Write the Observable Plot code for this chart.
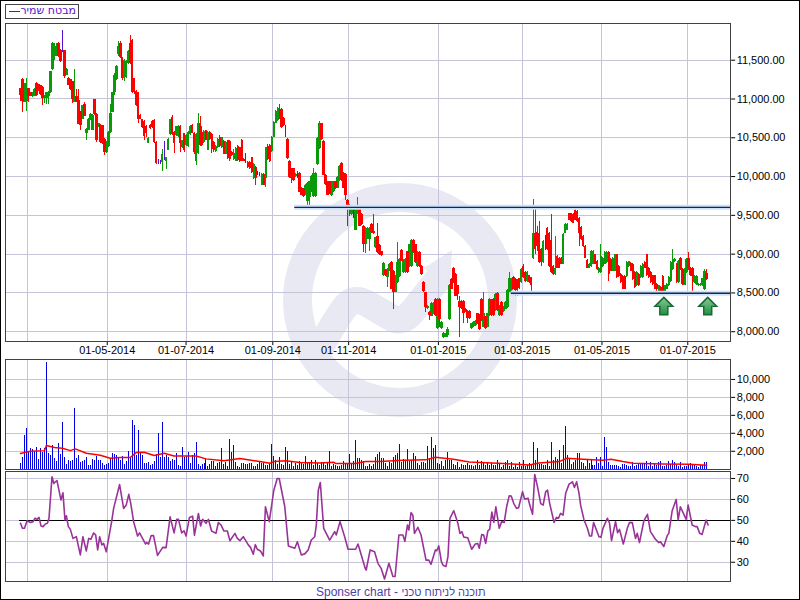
<!DOCTYPE html>
<html><head><meta charset="utf-8">
<script src="https://cdn.jsdelivr.net/npm/d3@7"></script>
<script src="https://cdn.jsdelivr.net/npm/@observablehq/plot@0.6"></script>
<style>
html,body{margin:0;padding:0;background:#fff}
#page{position:relative;width:800px;height:600px;box-sizing:border-box;border:1px solid #000;overflow:hidden;font-family:"Liberation Sans",Arial,sans-serif}
#page>svg,#page>div.p{position:absolute;left:-1px}
#legend{position:absolute;left:4px;top:3px;width:72px;height:13px;border:1px solid #444;background:#fff;color:#5a10d0;font:11px "DejaVu Sans",sans-serif}
#legend i{position:absolute;left:3px;top:6px;width:11px;height:1px;background:#5a10d0}
#legend span{position:absolute;right:2px;top:-1px;direction:rtl;white-space:nowrap;line-height:14px}
#caption{position:absolute;left:315px;top:584px;font-size:12px;color:#5040a8;white-space:nowrap}
#caption b{font-weight:normal;font-size:11px}
</style></head><body>
<div id="page">
<svg id="wm" width="800" height="600" style="top:-1px">
<defs><linearGradient id="arrowGrad" x1="0" y1="0" x2="0" y2="1"><stop offset="0" stop-color="#8cc79a"/><stop offset="1" stop-color="#1f8f42"/></linearGradient></defs>
<circle cx="400" cy="300" r="102.5" fill="none" stroke="#e9e9f4" stroke-width="29"/>
<path d="M318 352 Q336 318 346 306 Q354 296 368 304 L392 318 Q402 324 412 312 L442 274" fill="none" stroke="#e9e9f4" stroke-width="27"/>
<path d="M452 250 L424 268 L450 292 Z" fill="#e9e9f4"/>
</svg>
<div id="legend"><i></i><span>מבטח שמיר</span></div>
<div id="caption">Sponser chart - <b>תוכנה לניתוח טכני</b></div>
</div>
<script>
const opens=[
11130,11250,10950,10970,11130,11090,11030,11030,11200,11190,
11170,11150,11000,11000,11030,11080,11380,11550,11610,11710,
11630,11630,11620,11300,11270,11250,11230,10960,11030,10980,
10840,10740,10930,10560,10600,10730,10600,10990,10800,10630,
10660,10660,10480,10310,10390,10570,10820,11080,11250,11570,
11720,11530,11270,11280,11460,11720,11760,11260,11100,11080,
10790,10730,10710,10650,10420,10660,10710,10720,10440,10210,
10200,10180,10260,10200,10340,10540,10760,10570,10530,10520,
10650,10370,10550,10400,10390,10540,10660,10560,10190,10300,
10690,10570,10440,10590,10340,10570,10540,10440,10320,10370,
10500,10370,10450,10290,10460,10450,10310,10220,10200,10390,
10370,10470,10220,10210,10180,10180,10240,9970,10120,10050,
10040,9890,10030,9970,10390,10400,10320,10510,10690,10720,
10870,10870,10750,10570,10480,10200,10100,10100,10000,10040,
10040,9850,9830,9760,9680,9730,9810,9740,9740,10150,
10360,10680,10450,10020,9930,9930,9750,9810,9930,9850,
9950,10170,10040,10030,9690,9630,9510,9580,9310,9520,
9610,9510,9360,9120,9200,9190,9380,9290,9080,9230,
9110,9030,8720,8790,8700,8780,8890,8780,8510,8630,
8710,9050,8760,8760,9030,8840,8840,9180,9120,8840,
9020,8840,8640,8500,8300,8250,8200,8230,8420,8040,
8420,8040,7930,7930,7950,8160,8670,8820,8740,8590,
8390,8390,8390,8290,8260,8260,8040,8070,8080,8230,
8210,8420,8060,8190,8060,8210,8400,8420,8270,8490,
8210,8380,8260,8290,8310,8510,8530,8700,8670,8660,
8680,8630,8840,8760,8650,8720,8700,8950,9270,9280,
9270,9060,8890,9230,9330,9270,9180,8840,8740,8970,
8950,8950,8870,9270,9310,9520,9520,9510,9560,9550,
9460,9340,9230,9100,8920,8820,8840,8870,8990,8910,
8760,8760,8840,8870,8890,9020,8930,8780,8780,8990,
8840,8740,8710,8710,8710,8840,8880,8870,8760,8590,
8740,8700,8700,8890,8990,8820,8760,8720,8720,8610,
8510,8570,8710,8510,8550,8590,8650,8800,8900,8870,
8630,8950,8800,8600,8760,8950,8820,8820,8630,8610,
8590,8590,8590,8540,8750];
const closes=[
11040,10970,11200,11100,11030,11030,11090,11120,11040,11120,
11060,11010,11040,11080,11090,11350,11720,11650,11680,11550,
11480,11620,11290,11380,11180,11120,10990,11030,10960,10670,
10660,10910,10780,10610,10740,10800,10790,10800,10470,10680,
10440,10420,10310,10440,10570,10810,11080,11300,11420,11680,
11530,11270,11500,11480,11610,11460,11080,11080,10910,10740,
10740,10630,10520,10560,10490,10620,10630,10440,10170,10190,
10190,10290,10220,10240,10480,10730,10540,10420,10640,10650,
10420,10460,10330,10530,10570,10650,10560,10310,10540,10690,
10400,10400,10580,10470,10570,10480,10350,10340,10390,10480,
10390,10500,10290,10440,10230,10220,10270,10300,10360,10210,
10190,10200,10200,10180,10120,10100,10050,10160,9970,10030,
10010,10030,9890,10370,10220,10190,10510,10700,10840,10880,
10740,10630,10660,10550,10230,9990,9980,9950,10030,9980,
9800,9760,9740,9890,9910,9930,10000,10040,10040,10490,
10680,10480,10020,9900,9760,9780,9930,9930,9840,9990,
10130,9950,9850,9760,9580,9570,9610,9510,9610,9620,
9360,9380,9120,9330,9330,9330,9280,9260,9210,9020,
8990,8980,8880,8720,8800,8870,8550,8510,8720,8890,
8930,8910,8920,8930,8760,9120,9180,9020,8890,9020,
8840,8740,8520,8310,8330,8210,8370,8370,8210,8420,
8160,8120,7980,7970,8030,8600,8550,8630,8460,8480,
8310,8300,8240,8260,8170,8170,8100,8120,8130,8100,
8030,8140,8230,8040,8230,8420,8210,8210,8480,8270,
8330,8210,8310,8380,8530,8680,8670,8550,8530,8540,
8560,8800,8700,8650,8760,8630,8590,9260,9060,9100,
8890,8890,9160,9060,9060,8840,8760,8740,8820,8820,
8820,8870,9250,9380,9380,9440,9420,9400,9440,9420,
9270,9190,9100,8950,8820,8870,9040,9040,8870,8800,
8820,8970,8950,9020,9020,8740,8780,8950,8990,8700,
8710,8630,8550,8550,8890,8900,8780,8670,8570,8760,
8590,8840,8870,8820,8720,8700,8630,8610,8550,8550,
8590,8510,8520,8590,8610,8700,8890,8930,8930,8630,
8910,8800,8610,8800,8930,8800,8720,8710,8710,8710,
8610,8610,8680,8780,8670];
const highs=[
11130,11260,11200,11260,11130,11090,11090,11130,11210,11190,
11170,11160,11040,11080,11100,11350,11730,11710,11720,11730,
11640,11880,11630,11390,11280,11250,11230,11380,11120,11120,
10840,10920,10960,10620,10750,10810,10800,10990,10810,10690,
10670,10660,10490,10450,10580,10930,11090,11330,11430,11740,
11740,11540,11510,11490,11620,11820,11770,11270,11110,11090,
10800,10740,10720,10660,10500,10670,10720,10730,10450,10220,
10210,10350,10450,10250,10490,10740,10790,10580,10650,10660,
10660,10470,10560,10540,10580,10660,10670,10570,10550,10810,
10770,10650,10590,10600,10580,10580,10550,10450,10400,10490,
10530,10510,10460,10450,10470,10460,10320,10350,10370,10400,
10380,10480,10230,10300,10190,10190,10250,10170,10130,10060,
10050,10040,10040,10380,10410,10410,10520,10710,10850,10890,
10930,10880,10760,10660,10490,10210,10110,10110,10040,10070,
10050,9860,9840,9900,9920,9940,10010,10100,10050,10500,
10710,10690,10460,10030,9940,9940,9940,9940,9940,10000,
10140,10180,10050,10040,9700,9640,9620,9590,9620,9725,
9620,9520,9370,9340,9340,9340,9390,9515,9220,9400,
9120,9040,8890,8800,8810,8880,8900,8790,8730,9150,
8940,9060,8930,8940,9040,9130,9190,9190,9130,9030,
9030,8850,8650,8510,8340,8260,8380,8380,8430,8430,
8430,8130,7990,7980,8060,8610,8680,8830,8750,8600,
8450,8400,8400,8300,8270,8270,8110,8130,8140,8240,
8220,8430,8500,8200,8240,8430,8420,8430,8490,8500,
8340,8390,8320,8390,8540,8760,8680,8710,8680,8670,
8690,8810,8860,8770,8770,8720,8700,9705,9590,9350,
9420,9070,9170,9240,9340,9280,9505,8850,9230,8980,
8960,8960,9260,9390,9400,9530,9530,9520,9630,9560,
9470,9350,9240,9110,8930,8880,9050,9050,9000,8920,
8830,9120,8960,9030,9030,9030,8940,8960,9000,9000,
8850,8750,8720,8720,8900,8910,8890,8880,8770,8770,
8750,8850,8880,8900,9000,8830,8770,8730,8730,8620,
8600,8580,8720,8600,8620,8710,8900,9065,8940,8880,
8920,8960,8810,8810,8940,9015,8830,8830,8720,8720,
8620,8620,8690,8800,8800];
const lows=[
10970,10830,10950,10840,10950,11030,11020,11030,11030,11100,
11050,10920,10940,10930,10930,11070,11370,11500,11550,11540,
11470,11600,11270,11300,11170,11110,10940,10950,10950,10670,
10590,10740,10770,10470,10600,10720,10600,10790,10440,10630,
10430,10410,10270,10300,10380,10560,10820,11050,11240,11550,
11520,11240,11230,11260,11450,11450,11070,11060,10900,10690,
10730,10620,10460,10500,10420,10610,10620,10430,10160,10160,
10150,10060,10210,10090,10330,10530,10530,10300,10520,10510,
10310,10360,10310,10390,10380,10530,10550,10290,10140,10290,
10390,10390,10430,10460,10330,10470,10300,10310,10310,10360,
10380,10360,10280,10280,10220,10200,10260,10210,10190,10200,
10180,10190,10190,10170,10110,10090,10040,9960,9890,10020,
10000,9880,9880,9860,10210,10180,10310,10500,10680,10710,
10730,10620,10650,10510,10220,9980,9910,9940,9990,9970,
9790,9750,9730,9750,9620,9575,9800,9730,9730,10140,
10350,10470,10010,9890,9750,9770,9740,9800,9830,9840,
9940,9940,9840,9690,9355,9485,9500,9460,9300,9510,
9350,9370,9020,9010,9190,9030,9270,9250,9070,9010,
8980,8970,8710,8710,8570,8770,8540,8290,8500,8620,
8700,8900,8750,8750,8750,8830,8830,9010,8880,8830,
8830,8730,8510,8245,8290,8150,8190,8220,8200,8030,
8050,8030,7910,7920,7930,8150,8540,8620,8450,8400,
7930,8290,8100,8250,8100,8160,8030,8060,8070,8090,
8010,8130,8050,8030,8050,8200,8200,8200,8260,8260,
8200,8200,8250,8280,8300,8500,8520,8540,8460,8460,
8550,8620,8690,8640,8640,8620,8520,8935,9000,9040,
8880,8840,8880,9050,9050,8830,8750,8730,8730,8810,
8810,8860,8860,9260,9300,9430,9410,9390,9430,9410,
9100,9180,9090,8940,8810,8810,8830,8860,8860,8790,
8750,8750,8830,8860,8880,8650,8770,8770,8770,8690,
8700,8620,8540,8540,8700,8830,8770,8660,8560,8580,
8580,8690,8690,8810,8710,8690,8620,8600,8540,8480,
8500,8500,8510,8500,8540,8580,8640,8790,8890,8620,
8620,8790,8600,8590,8750,8790,8710,8520,8620,8600,
8580,8580,8580,8530,8660];
const dojiBars=[21,69,70,72,113,119,120,133,139,167,263];
const volumes=[
670,1260,3800,4480,1960,2330,2150,2000,2370,1040,
2260,1810,2330,11900,1700,1480,2590,1220,810,2810,
1590,5150,1260,480,930,810,930,6810,1150,1480,
700,810,1000,1260,370,370,1040,930,1370,930,
930,590,370,480,590,1070,1700,1590,1480,1150,
930,1370,480,810,1920,1260,5480,4920,1480,4260,
1700,1480,590,590,700,370,480,810,1590,4030,
1260,5250,1260,1480,1260,810,1040,930,1700,370,
260,2370,1260,1370,1810,590,1480,1700,3030,480,
260,480,590,1040,260,480,810,810,260,590,
700,2260,480,700,260,3260,1810,2590,700,260,
150,590,590,480,480,590,590,260,260,480,
780,670,670,370,370,670,2700,1370,930,480,
1260,480,370,2370,1920,480,810,260,590,370,
810,700,480,1370,700,590,930,370,930,590,
370,700,590,370,590,1920,260,480,370,260,
260,370,810,590,590,1590,590,810,3150,1150,
1150,930,810,260,260,480,260,480,1260,1590,
1810,1150,1150,590,260,700,590,1260,1480,1700,
2700,700,1040,930,2150,810,930,1700,1370,590,
370,700,700,590,2480,1150,3480,2260,2590,590,
480,810,260,930,1810,930,930,480,370,700,
150,480,370,370,590,370,370,260,370,930,
370,810,590,370,590,370,590,370,370,930,
590,150,370,700,930,260,700,150,370,150,
700,260,930,260,370,590,480,3030,930,2260,
480,480,370,370,930,260,2920,930,1260,1040,
2040,590,2590,4810,1480,1040,480,700,930,1700,
1700,700,590,260,1040,590,930,370,370,1260,
590,1260,260,3480,2370,700,370,370,370,370,
260,150,480,480,370,260,260,700,260,370,
590,480,590,590,810,260,700,260,480,370,
700,810,260,260,370,810,480,930,700,370,
260,700,150,260,260,480,590,370,370,260,
150,370,370,700,700];
const maBars=[0,2.5,5,12,13,17,21,25,27.5,33,40,45,50,55,58,62,67,72,77,88,93,102,110,120,125,127,133,140,150,157,158,168,173,180,192,203,208,217,225,242,255,260,270,274,282,292,296,302,307,322,335,344];
const maValues=[1740,1890,2000,2070,2630,2410,2330,2070,2260,1780,1560,1220,1300,1300,1850,1890,1520,1780,1480,1480,1150,930,1190,850,670,850,930,740,700,780,630,630,850,850,1000,1040,1330,1110,810,630,480,700,850,1220,1110,1000,1110,850,670,590,550,440];
const rsiBars=[0,1,2,3.3,5,6.3,7.3,8.3,9.3,10.3,11.3,12.5,13.5,14.3,15.8,16.7,17.5,18.3,20.3,21.3,22.3,23,24,25,26.3,28,30,31.3,33,34.2,35.3,36.7,37.7,38.7,39.7,40.8,41.7,43,45.8,46.7,49.7,51.7,53,54.3,55.3,56.7,58.7,59.7,62.7,63.3,64.2,65.5,66.7,68.7,71.3,73,75,77,78.3,79.2,80.8,82,83,84.7,86.3,87.2,89.2,90.3,91.3,93,94.2,95.8,98,99.2,100.5,102,103.7,105,107.5,108.7,110,111.7,114.2,115.3,116.7,117.7,118.7,120.3,121.7,122.8,124.7,125.8,127,128.7,129.7,132.5,134.3,137.5,138.8,140.8,142.5,144.2,145.8,147.5,148.3,149.3,150.3,152,155,157.5,158.3,160.2,162.5,164.2,168,169.2,172.8,173.3,175.3,177.5,179.2,180.8,182.5,184.7,186.7,187.8,189.7,
190,191.7,192.7,194,194.7,195.8,196.7,197.5,199.2,200.8,203.3,204.7,205.8,208,208.7,209.7,211,212,213.3,214.3,215.3,217.2,219.2,220.3,221.3,222.2,224.2,226.2,228,229.2,230,231.2,232.2,233.2,234.3,235.2,236.3,237.3,238.3,240,241.2,242.5,243.7,245,246,247.3,248.7,249.7,251.7,252.7,254.5,255.3,256.7,257.8,259.2,260.8,262,263.3,264.2,265.3,267.5,268.7,269.7,270.7,272,273.3,275,276.7,277.7,278.8,280,280.8,282.5,284.2,285.3,286.3,287.3,290,291,292,294.2,295.3,296.3,298.3,299.3,300.3,302.2,304.2,305.3,306.7,308.3,309.2,310.3,312.5,314.3,315.8,318.3,320,320.8,322.5,324.2,325,326.7,328.7,329.7,330.8,333.7,334.7,336.7,338.3,339.2,340.5,341.7,343.7,344.7];
const rsiValues=[48.6,46.2,46.2,49.8,49,49.4,51,50.5,51.4,47.3,47,48.3,48.6,51,70.8,67.6,68.4,69,59.7,63.2,50.2,52.2,47,45.7,41.4,42.2,33.5,42.2,35.4,41.4,41,44,43,35.9,42.2,38.3,39,35,50,55.7,67.1,55.7,57.3,62.4,58,49.4,42.5,44,38.7,39.4,38.7,42.7,42.7,33.3,37.1,37,51.7,44,50.5,50.5,44,45,42.5,51.4,52,42.9,53.3,47.3,50.5,48.6,50.5,44.9,43.8,49,47.8,44.9,44.9,40.3,43.8,41.4,40.3,42.2,38.3,37.1,33.8,38.4,36.2,35.4,33,56.5,49.4,56.5,64.4,70,70,56.5,37.8,36.7,39.8,33.5,34,35.9,40.6,42.2,47.8,64.4,68.1,46.2,40.6,44.6,43,49.4,42.2,36.2,36.2,38.7,27.1,26.3,35.9,35,29.5,27.1,22,29.5,23.2,23.2,43,
43,43,40,47.8,45.4,53.7,52.5,43.8,46.7,43,31,31,29,35.9,35.5,37.8,30.3,28.4,28,32.7,51,54.6,48.9,43.8,44.6,42,41.7,36.2,38.7,39,36.7,43.2,43,39,45,45.7,54,49,56.5,46.2,49.4,49,56.5,61.7,61.6,58,55.7,56,63.7,60.2,60.5,57.3,52.9,71.9,66,58,57.3,63.7,64.4,58,49,51.4,51,53.3,52.5,62.9,67.3,68.4,65.7,68.4,62.9,57.3,50.2,46.2,42.5,42.5,49,42.2,41.9,46.2,51,48.6,40.3,49.4,44.1,45.7,38.7,46.2,49,48.9,41.4,43.8,39.4,49.8,52.9,44.6,41,39.4,39.8,37.5,42.7,43.8,54.6,60,50.2,56.5,50.5,57.3,47.8,47,47,43.8,43.3,50.2,47.8];
const timeTicks=[3.5,43.5,83,126.5,164.5,209.5,251.5,291.5,334.5];
const timeLabels=["","01-05-2014","01-07-2014","01-09-2014","01-11-2014","01-01-2015","01-03-2015","01-05-2015","01-07-2015"];
const priceTicks=[8000,8500,9000,9500,10000,10500,11000,11500];
const volumeTicks=[2000,4000,6000,8000,10000];
const rsiTicks=[30,40,50,60,70];
const resistance=[{price:9603,from:137.5,to:356},{price:8495,from:246,to:356}];
const arrows=[{i:322.5,price:8333},{i:344.5,price:8333}];

const GRID="#c6c4d8", FRAME="#404040", GREEN="#089a08", RED="#ff0000", PURPLE="#5a10d0";
const xDomain=[-7.5,356];
const bars=opens.map((o,i)=>({i,o,c:closes[i],h:highs[i],l:lows[i],v:volumes[i]}));
const doji=new Set(dojiBars);
const kind=d=>doji.has(d.i)?"d":d.c>=d.o?"g":"r";
const series=k=>bars.filter(d=>kind(d)===k);
const base={width:800,marginLeft:5,marginRight:68,style:{background:"transparent",fontFamily:"'Liberation Sans',Arial,sans-serif",fontSize:"11px",color:"#000",overflow:"visible"}};
const arrowSymbol={draw(c){c.moveTo(0,-8.5);c.lineTo(9,0.5);c.lineTo(4,0.5);c.lineTo(4,9);c.lineTo(-4,9);c.lineTo(-4,0.5);c.lineTo(-9,0.5);c.closePath();}};
const crisp={shapeRendering:"crispEdges"};
const grid=()=>Plot.gridX({ticks:timeTicks,stroke:GRID,strokeOpacity:1,...crisp});
const price=Plot.plot({...base,height:360,marginTop:23,marginBottom:18,
 x:{domain:xDomain,label:null},y:{domain:[7872,11974],label:null},
 marks:[
  Plot.gridY(priceTicks,{stroke:GRID,strokeOpacity:1,...crisp}),grid(),
  ...[["g",GREEN],["r",RED],["d",PURPLE]].flatMap(([k,col])=>[
    Plot.ruleX(series(k),{x:"i",y1:"l",y2:"h",stroke:col,strokeWidth:1,...crisp}),
    Plot.ruleX(series(k),{x:"i",y1:"o",y2:"c",stroke:col,strokeWidth:k==="d"?1:2.6,...crisp})]),
  Plot.ruleY(resistance,{y:"price",x1:"from",x2:"to",stroke:"#cfe1f7",strokeWidth:5}),
  Plot.ruleY(resistance,{y:"price",x1:"from",x2:"to",stroke:"#0b2a5c",strokeWidth:1.4}),
  Plot.dot(arrows,{x:"i",y:"price",symbol:arrowSymbol,fill:"url(#arrowGrad)",stroke:"#176b30",r:1}),
  Plot.axisY(priceTicks,{anchor:"right",tickFormat:d3.format(",.2f"),tickSize:4,tickPadding:2,label:null}),
  Plot.axisX(timeTicks.slice(1),{anchor:"bottom",tickFormat:d=>timeLabels[timeTicks.indexOf(d)],tickSize:4,tickPadding:1,label:null}),
  Plot.frame({stroke:FRAME,...crisp})
 ]});
const vol=Plot.plot({...base,height:115,marginTop:4,marginBottom:1,
 x:{domain:xDomain,axis:null},y:{domain:[0,12222],label:null},
 marks:[
  Plot.gridY(volumeTicks,{stroke:GRID,strokeOpacity:1,...crisp}),grid(),
  Plot.ruleX(bars,{x:"i",y1:0,y2:"v",stroke:"#0000dd",strokeWidth:1,...crisp}),
  Plot.line(maBars.map((b,k)=>({b,v:maValues[k]})),{x:"b",y:"v",stroke:"#ff0000",strokeWidth:1.5}),
  Plot.axisY(volumeTicks,{anchor:"right",tickFormat:d3.format(","),tickSize:4,tickPadding:2,label:null}),
  Plot.frame({stroke:FRAME,...crisp})
 ]});
const rsi=Plot.plot({...base,height:115,marginTop:1,marginBottom:4,
 x:{domain:xDomain,axis:null},y:{domain:[20.95,73.33],label:null},
 marks:[
  Plot.gridY(rsiTicks,{stroke:GRID,strokeOpacity:1,...crisp}),grid(),
  Plot.ruleY([50],{x1:-0.5,x2:356,stroke:"#000",strokeWidth:1,...crisp}),
  Plot.line(rsiBars.map((b,k)=>({b,v:rsiValues[k]})),{x:"b",y:"v",stroke:"#993399",strokeWidth:1.6}),
  Plot.axisY(rsiTicks,{anchor:"right",tickSize:4,tickPadding:2,label:null}),
  Plot.frame({stroke:FRAME,...crisp})
 ]});
const page=document.getElementById("page");
[[price,0],[vol,355],[rsi,470]].forEach(([el,top])=>{el.style.position="absolute";el.style.left="-1px";el.style.top=(top-1)+"px";page.appendChild(el);});
page.appendChild(document.getElementById("legend"));
page.appendChild(document.getElementById("caption"));
</script>
</body></html>
